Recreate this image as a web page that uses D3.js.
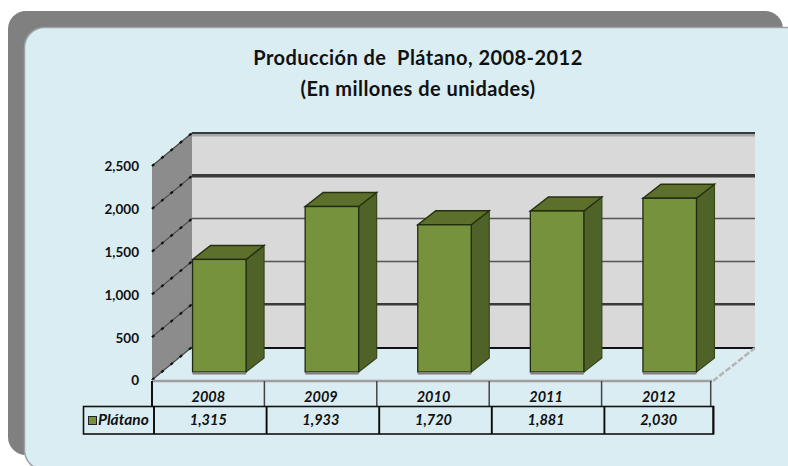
<!DOCTYPE html>
<html><head><meta charset="utf-8">
<script src="https://cdn.jsdelivr.net/npm/d3@7"></script>
<style>html,body{margin:0;padding:0;background:#fff;overflow:hidden}svg{display:block}</style>
</head><body><div id="c"></div>
<script>
const titleLines = ["Producción de  Plátano, 2008-2012", "(En millones de unidades)"];
const years = ["2008", "2009", "2010", "2011", "2012"];
const values = [1315, 1933, 1720, 1881, 2030];
const yTicks = [0, 500, 1000, 1500, 2000, 2500];
const seriesName = "Plátano";

const font = "Lato, 'Noto Sans', sans-serif";
const W = 788, H = 466;
const svg = d3.select("#c").append("svg").attr("width", W).attr("height", H);

// Panel
svg.append("rect").attr("x", 8).attr("y", 11).attr("width", 775).attr("height", 444).attr("rx", 18).attr("fill", "#808080");
svg.append("rect").attr("x", 24.5).attr("y", 27.5).attr("width", 800).attr("height", 442.5).attr("rx", 20)
  .attr("fill", "#daedf3").attr("stroke", "#9aa3a5").attr("stroke-width", 1.5);

// Title
svg.append("g").selectAll("text").data(titleLines).join("text")
  .attr("x", 418).attr("y", (d, i) => 64.5 + i * 31)
  .attr("text-anchor", "middle").attr("font-family", font).attr("font-weight", 700).attr("font-size", 20)
  .attr("letter-spacing", 0.45).style("white-space", "pre")
  .attr("fill", "#111").text(d => d);

// Scales
const y = d3.scaleLinear().domain([0, 2500]).range([380, 166]);
const x = d3.scaleBand().domain(years).range([152, 715]);
const depthX = 40, depthY = -33;          // floor depth
const barOffX = 11, barOffY = -8;         // bar position on the floor
const barDX = 18, barDY = -14;            // bar depth
const barW = 53.5;

// Back wall
svg.append("rect").attr("x", 152 + depthX).attr("y", y(2500) + depthY)
  .attr("width", 563).attr("height", y(0) - y(2500)).attr("fill", "#d9d9d9");
// Side wall
svg.append("path").attr("fill", "#8c8c8c")
  .attr("d", d3.line()([[152, y(0)], [152 + depthX, y(0) + depthY], [152 + depthX, y(2500) + depthY], [152, y(2500)]]));

// Back wall gridlines
const gridW = [2, 2.5, 1.5, 1.5, 3.5, 1.5];
const gridC = ["#111", "#3a3a3a", "#555", "#555", "#3a3a3a", "#000"];
svg.append("g").selectAll("line").data(yTicks).join("line")
  .attr("x1", 152 + depthX).attr("x2", 755)
  .attr("y1", d => y(d) + depthY + (d === 0 ? 1 : 0)).attr("y2", d => y(d) + depthY + (d === 0 ? 1 : 0))
  .attr("stroke", (d, i) => gridC[i]).attr("stroke-width", (d, i) => gridW[i]);
svg.append("rect").attr("x", 192).attr("y", y(2500) + depthY + 1).attr("width", 563).attr("height", 2.5).attr("fill", "#a6a6a6");

// Side wall tick lines (jagged)
const tickG = svg.append("g");
tickG.selectAll("line.a").data(yTicks).join("line").attr("class", "a")
  .attr("x1", 152).attr("y1", d => y(d)).attr("x2", 152 + depthX).attr("y2", d => y(d) + depthY)
  .attr("stroke", "#444").attr("stroke-width", 1.1);
tickG.selectAll("line.b").data(yTicks).join("line").attr("class", "b")
  .attr("x1", 152).attr("y1", d => y(d)).attr("x2", 152 + depthX).attr("y2", d => y(d) + depthY)
  .attr("stroke", "#111").attr("stroke-width", 2.2).attr("stroke-dasharray", "3 9");

// Floor edges
svg.append("line").attr("x1", 152).attr("x2", 712).attr("y1", y(0) + 1).attr("y2", y(0) + 1).attr("stroke", "#a0a0a0").attr("stroke-width", 2.5);
svg.append("line").attr("x1", 713).attr("y1", y(0) + 1).attr("x2", 755).attr("y2", y(0) + depthY + 1).attr("stroke", "#b5b5b5").attr("stroke-width", 2.5).attr("stroke-dasharray", "6 2");

// Bars
const barL = d => x(d) + x.bandwidth() / 2 - barW / 2 + barOffX;
const base = y(0) + barOffY;
const barTop = v => y(v) + barOffY;
const bars = svg.append("g").selectAll("g").data(d3.zip(years, values)).join("g");
bars.append("path").attr("fill", "#4f6228").attr("stroke", "#39471c").attr("stroke-width", 1.2)
  .attr("d", ([c, v]) => d3.line()([[barL(c) + barW, base], [barL(c) + barW + barDX, base + barDY], [barL(c) + barW + barDX, barTop(v) + barDY], [barL(c) + barW, barTop(v)]]) + "Z");
bars.append("path").attr("fill", "#5c6f2b").attr("stroke", "#26300f").attr("stroke-width", 1.4)
  .attr("d", ([c, v]) => d3.line()([[barL(c), barTop(v)], [barL(c) + barDX, barTop(v) + barDY], [barL(c) + barW + barDX, barTop(v) + barDY], [barL(c) + barW, barTop(v)]]) + "Z");
bars.append("rect").attr("fill", "#76923c").attr("stroke", "#1f2a10").attr("stroke-width", 1.3)
  .attr("x", ([c]) => barL(c)).attr("y", ([c, v]) => barTop(v)).attr("width", barW).attr("height", ([c, v]) => base - barTop(v));
bars.append("rect").attr("fill", "#7f7f7f")
  .attr("x", ([c]) => barL(c)).attr("y", base).attr("width", barW).attr("height", 2.5);

// Y axis
const axis = d3.axisLeft(y).tickValues(yTicks).tickSize(0).tickPadding(0).tickFormat(d3.format(","));
const gA = svg.append("g").attr("transform", "translate(139,0.5)").call(axis);
gA.select(".domain").remove();
gA.selectAll("text").attr("font-family", font).attr("font-weight", 700).attr("font-size", 13.5).attr("fill", "#111");

// Data table
const rowLines = svg.append("g");
const vRow1 = [...years.map(d => x(d)), 711.7];
rowLines.selectAll("line").data(vRow1).join("line")
  .attr("x1", (d, i) => i === 0 ? d : d - i * 0.2).attr("x2", (d, i) => i === 0 ? d : d - i * 0.2).attr("y1", 381).attr("y2", 406)
  .attr("stroke", (d, i) => i === 0 ? "#111" : "#444").attr("stroke-width", (d, i) => i === 0 ? 2 : 1.5);
const vRow2 = [...years.map(d => x(d) + 2), 713.3];
svg.append("rect").attr("x", 83.5).attr("y", 406.5).attr("width", 630).attr("height", 27.5).attr("fill", "none").attr("stroke", "#111").attr("stroke-width", 1.6);
svg.append("g").selectAll("line").data(vRow2).join("line")
  .attr("x1", d => d).attr("x2", d => d).attr("y1", 406).attr("y2", 434)
  .attr("stroke", "#0a0a0a").attr("stroke-width", 1.9);

const cell = g => g.attr("font-family", font).attr("font-weight", 700).attr("font-style", "italic").attr("font-size", 14.5).attr("fill", "#111");
svg.append("g").call(cell).selectAll("text").data(years).join("text")
  .attr("x", d => x(d) + x.bandwidth() / 2).attr("y", 402).attr("text-anchor", "middle").text(d => d);
svg.append("g").call(cell).selectAll("text").data(values).join("text")
  .attr("x", (d, i) => x(years[i]) + x.bandwidth() / 2).attr("y", 424.5).attr("text-anchor", "middle").text(d3.format(","));
svg.append("rect").attr("x", 88.5).attr("y", 416.5).attr("width", 8).attr("height", 8).attr("fill", "#76923c").attr("stroke", "#222");
svg.append("text").call(cell).attr("x", 98).attr("y", 424.5).attr("font-size", 15.5).text(seriesName);
</script></body></html>
